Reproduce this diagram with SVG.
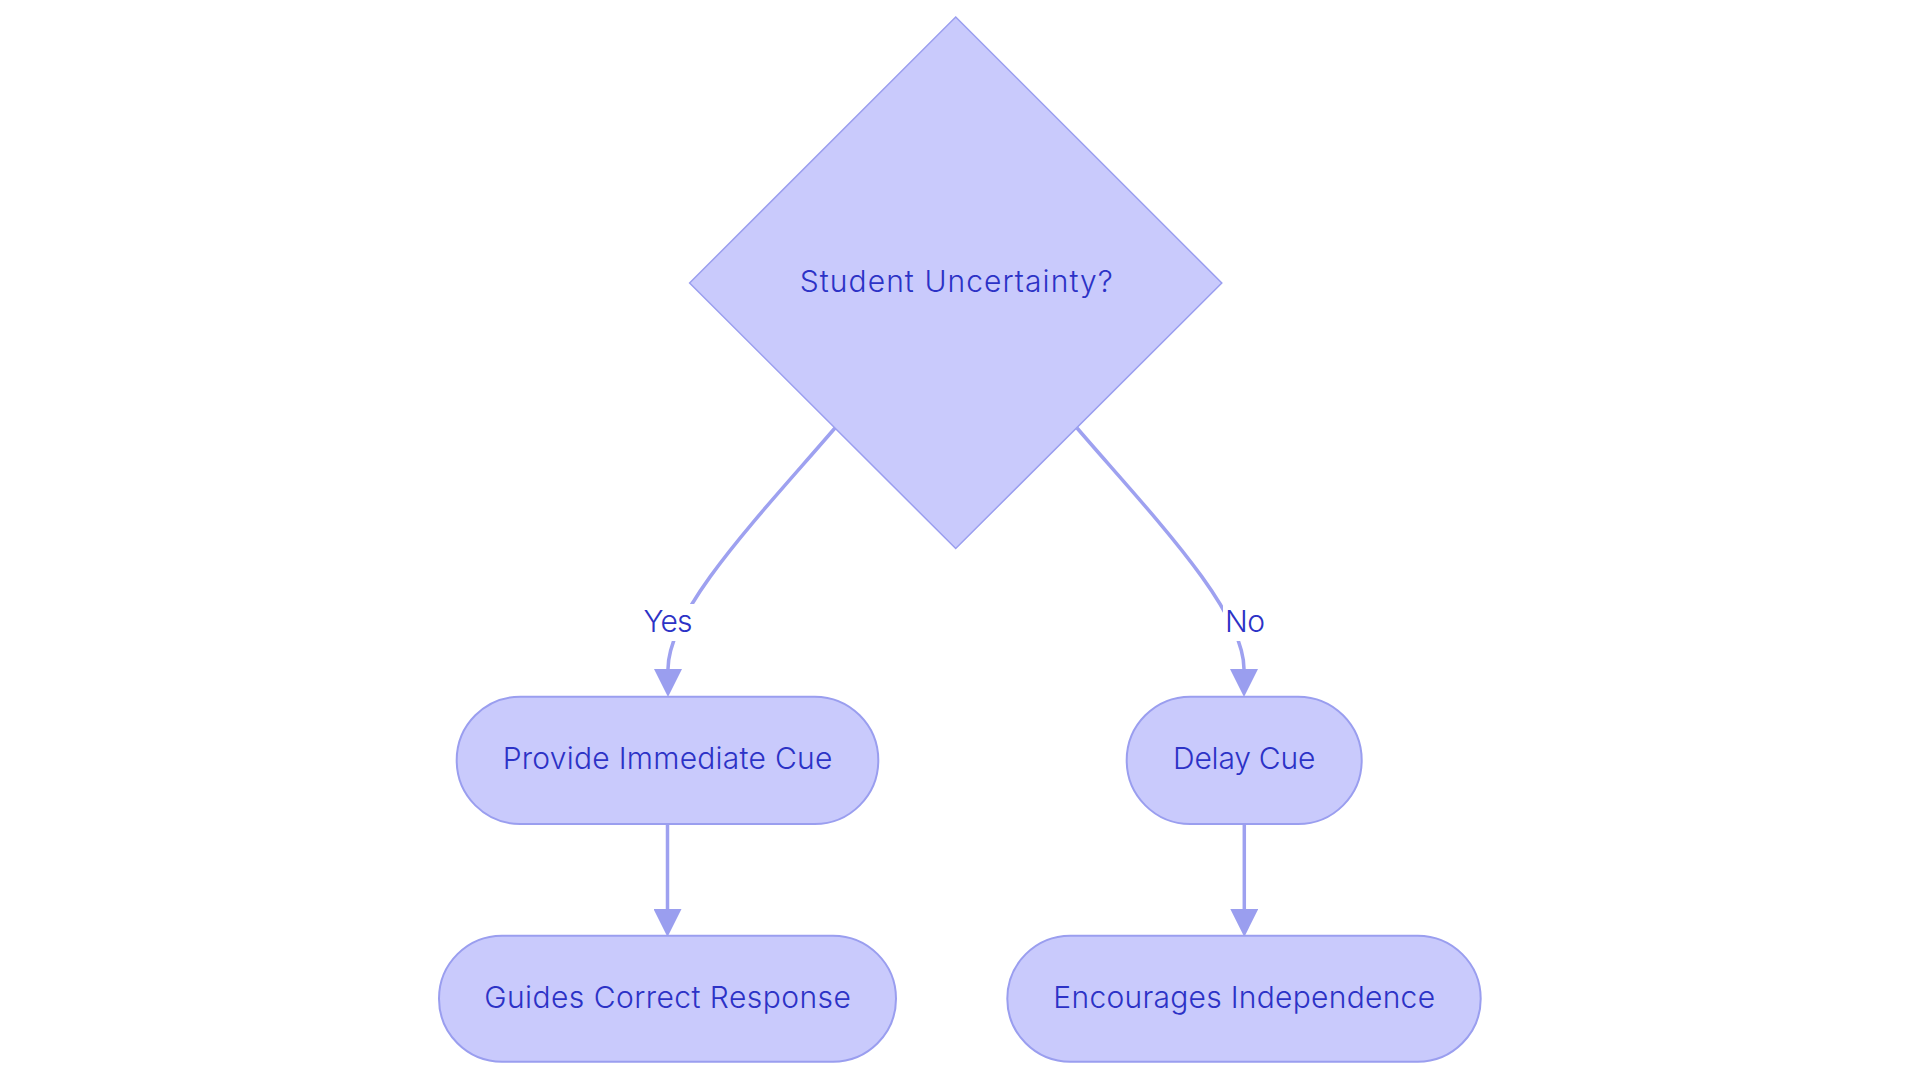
<svg xmlns="http://www.w3.org/2000/svg" width="1920" height="1083" viewBox="0 0 1920 1083">
<style>
.node{fill:#C9CAFC;stroke:#9A9EEF;stroke-width:2}
.lbl{font-family:Inter,"Noto Sans",sans-serif;font-size:30px;font-weight:300;fill:#2C32C6;text-anchor:middle}
.edge{fill:none;stroke:#9EA1F0;stroke-width:3.5}
.lblbg{fill:#FFFFFF}
</style>
<defs>
<marker id="arrow" markerUnits="userSpaceOnUse" markerWidth="28" markerHeight="28" refX="0" refY="13.5" orient="auto" viewBox="0 0 27 27">
<path d="M0,0 L27,13.5 L0,27 Z" fill="#9A9EEF"/>
</marker>
</defs>
<rect width="1920" height="1083" fill="#FFFFFF"/>
<g id="connectors">
<path class="edge" d="M835,428 C760,515 668,610 668,669" marker-end="url(#arrow)"/>
<path class="edge" d="M1077,428 C1152,515 1244,610 1244,669" marker-end="url(#arrow)"/>
<path class="edge" d="M667.5,824 L667.5,909" marker-end="url(#arrow)"/>
<path class="edge" d="M1244.3,824 L1244.3,909" marker-end="url(#arrow)"/>
<g id="label-yes">
<rect class="lblbg" x="642" y="604" width="52" height="37"/>
<text class="lbl" x="668" y="631.7" textLength="49">Yes</text>
</g>
<g id="label-no">
<rect class="lblbg" x="1223" y="604" width="44" height="37"/>
<text class="lbl" x="1245" y="631.7" textLength="40">No</text>
</g>
</g>
<g id="node-decision">
<polygon class="node" points="955.7,17 1221.8,283 955.7,548.5 689.6,283" style="stroke-width:1.5"/>
<text class="lbl" x="956.3" y="292" textLength="313">Student Uncertainty?</text>
</g>
<g id="node-immediate">
<rect class="node" x="456.7" y="696.7" width="421.6" height="127.3" rx="63.6" ry="63.6"/>
<text class="lbl" x="667.5" y="769.3" textLength="329.6">Provide Immediate Cue</text>
</g>
<g id="node-delay">
<rect class="node" x="1126.7" y="696.7" width="235" height="127.3" rx="63.6" ry="63.6"/>
<text class="lbl" x="1244.2" y="769.3" textLength="142.3">Delay Cue</text>
</g>
<g id="node-guides">
<rect class="node" x="439" y="935.7" width="457" height="126" rx="63" ry="63"/>
<text class="lbl" x="667.5" y="1008.3" textLength="366.7">Guides Correct Response</text>
</g>
<g id="node-encourages">
<rect class="node" x="1007.3" y="935.7" width="473.4" height="126" rx="63" ry="63"/>
<text class="lbl" x="1244.2" y="1008.3" textLength="381.7">Encourages Independence</text>
</g>
</svg>
